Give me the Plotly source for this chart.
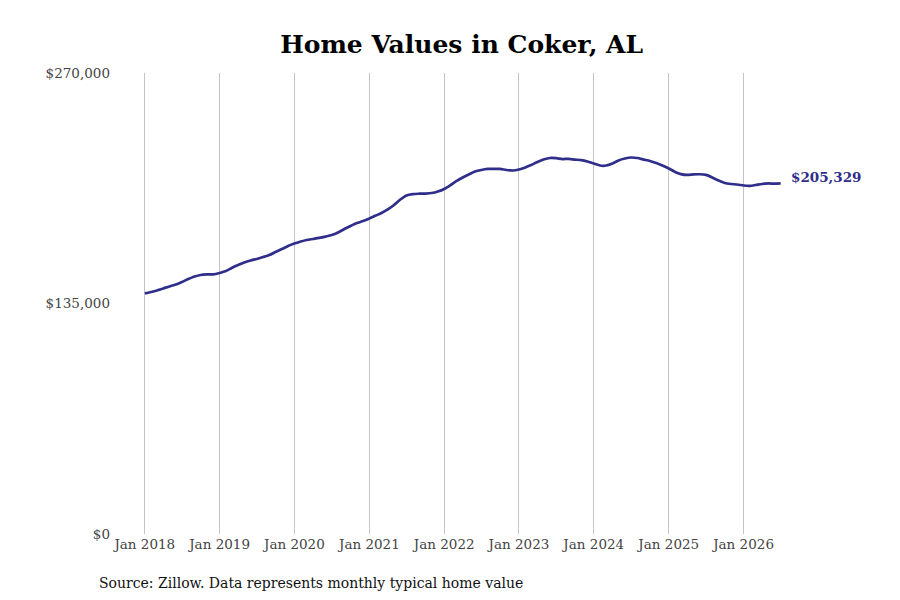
import pandas as pd
import plotly.graph_objects as go

# monthly typical home value, Jan 2018 .. Jul 2026
months = pd.date_range("2018-01-01", "2026-07-01", freq="MS")
values = [
    140900, 141700, 142600, 143800, 145000, 146100, 147600, 149300, 150800, 151700, 152000, 152100,
    152900, 154000, 155800, 157500, 159000, 160200, 161100, 162200, 163400, 165200, 166900, 168700,
    170100, 171300, 172200, 172800, 173400, 174200, 175100, 176600, 178600, 180400, 182100, 183300,
    184800, 186500, 188000, 190100, 192700, 195900, 198300, 199100, 199300, 199400, 199700, 200600,
    202100, 204400, 206700, 208800, 210600, 212300, 213200, 213800, 213900, 213800, 213200, 212900,
    213500, 214700, 216100, 217900, 219300, 220200, 220100, 219600, 219700, 219300, 219000, 218200,
    217000, 215800, 215800, 217000, 218800, 219900, 220500, 220200, 219300, 218500, 217300, 215800,
    214100, 212000, 210800, 210300, 210600, 210700, 210300, 208800, 207000, 205600, 205000, 204700,
    204100, 203900, 204400, 205000, 205300, 205200, 205329,
]

y_ticks = [0, 135000, 270000]
y_labels = ["$0", "$135,000", "$270,000"]
x_ticks = pd.date_range("2018-01-01", "2026-01-01", freq="YS")
x_labels = [d.strftime("Jan %Y") for d in x_ticks]

line_color = "#2f2e8a"
font = "DejaVu Serif"

fig = go.Figure()
fig.add_trace(go.Scatter(
    x=months, y=values, mode="lines",
    line=dict(color=line_color, width=2.7, shape="spline", smoothing=0.6),
    hoverinfo="skip",
))

# label for the latest value
fig.add_annotation(
    x=months[-1], y=values[-1], text="<b>$%s</b>" % f"{values[-1]:,}",
    showarrow=False, xanchor="left", xshift=8, yshift=6,
    font=dict(family=font, size=13.5, color=line_color),
)

fig.add_annotation(
    x=0, y=0, xref="paper", yref="paper", xanchor="left", yanchor="top",
    xshift=-14, yshift=-39,
    text="Source: Zillow. Data represents monthly typical home value",
    showarrow=False, font=dict(family=font, size=14, color="#111"),
)

fig.update_layout(
    width=900, height=600,
    margin=dict(l=103, r=38, t=65, b=74),
    paper_bgcolor="white", plot_bgcolor="white",
    showlegend=False,
    font=dict(family=font, size=13.5, color="#444"),
    title=dict(text="<b>Home Values in Coker, AL</b>", x=0.504, xanchor="center",
               y=0.94, yanchor="middle",
               font=dict(family=font, size=25, color="black")),
)
fig.update_xaxes(
    range=["2017-07-20", "2027-09-10"],
    tickvals=x_ticks, ticktext=x_labels,
    showgrid=True, gridcolor="#c4c4c4", gridwidth=1,
    showline=False, zeroline=False, ticks="",
)
fig.update_yaxes(
    range=[0, 270000], tickvals=y_ticks, ticktext=y_labels,
    showgrid=False, zeroline=False, showline=False, ticks="",
)

fig.write_html("out.html")
